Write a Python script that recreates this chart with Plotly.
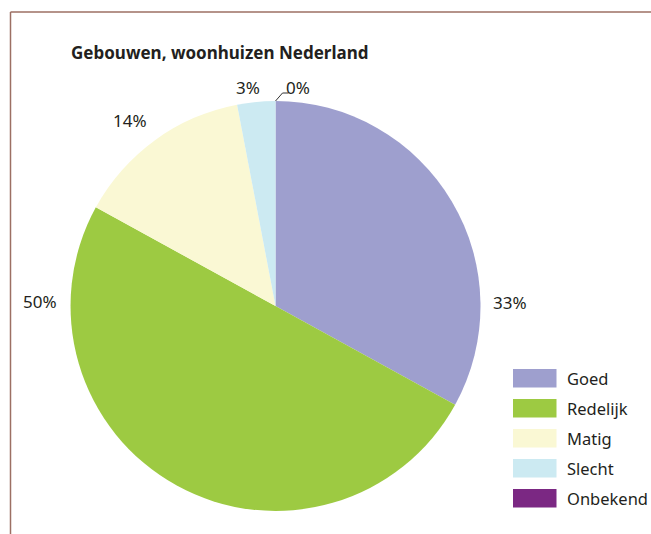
import plotly.graph_objects as go
import math

# ---- data ----
categories = ["Goed", "Redelijk", "Matig", "Slecht", "Onbekend"]
values = [33, 50, 14, 3, 0]
colors = ["#9E9FCE", "#9DCA42", "#FAF8D4", "#CCEAF2", "#7B2883"]
title_text = "Gebouwen, woonhuizen Nederland"

# ---- layout constants (window pixels) ----
W, H = 651, 534
cx, cy, R = 275.5, 306.0, 205.0
FONT = "Noto Sans, Open Sans, sans-serif"
TXT = "#231F20"
BORDER = "#9C6F63"

def px(x):
    return x / W

def py(y):
    return 1 - y / H

fig = go.Figure()
fig.add_trace(go.Pie(
    labels=categories,
    values=values,
    marker=dict(colors=colors, line=dict(width=0)),
    sort=False,
    direction="clockwise",
    rotation=0,
    textinfo="none",
    hoverinfo="label+percent",
    showlegend=False,
    domain=dict(x=[px(cx - R), px(cx + R)], y=[py(cy + R), py(cy - R)]),
))

annotations = []
shapes = []

# title
annotations.append(dict(
    text="<b>" + title_text + "</b>", x=px(69), y=py(52), xref="paper", yref="paper",
    xanchor="left", yanchor="middle", showarrow=False,
    font=dict(family=FONT, size=17, color=TXT),
))

# percentage labels (placement per slice)
label_pos = [(510, 302), (40, 301), (130, 120), (248, 88), (298, 87)]
total = sum(values)
for v, (lx, ly) in zip(values, label_pos):
    annotations.append(dict(
        text=f"{round(100 * v / total)}%", x=px(lx), y=py(ly), xref="paper", yref="paper",
        xanchor="center", yanchor="middle", showarrow=False,
        font=dict(family=FONT, size=17, color=TXT),
    ))

# leader line for the zero slice, starting at the slice's position on the rim
cum = sum(values[:4]) / total * 2 * math.pi
sx, sy = cx + R * math.sin(cum), cy - R * math.cos(cum)
shapes.append(dict(
    type="path", xref="paper", yref="paper",
    path=f"M {px(sx)} {py(sy)} L {px(sx + 7)} {py(sy - 8)} L {px(sx + 13)} {py(sy - 8)}",
    line=dict(color="#333333", width=1),
))

# legend
for i, (cat, col) in enumerate(zip(categories, colors)):
    y0 = 369 + 30 * i
    shapes.append(dict(
        type="rect", xref="paper", yref="paper",
        x0=px(513), x1=px(556.5), y0=py(y0 + 18.5), y1=py(y0),
        fillcolor=col, line=dict(width=0),
    ))
    annotations.append(dict(
        text=cat, x=px(565), y=py(y0 + 9.5), xref="paper", yref="paper",
        xanchor="left", yanchor="middle", showarrow=False,
        font=dict(family=FONT, size=16.5, color=TXT),
    ))

# border lines (top and left)
shapes.append(dict(type="line", xref="paper", yref="paper",
                   x0=px(10.5), x1=1, y0=py(12), y1=py(12),
                   line=dict(color=BORDER, width=1.5)))
shapes.append(dict(type="line", xref="paper", yref="paper",
                   x0=px(10.5), x1=px(10.5), y0=py(12), y1=0,
                   line=dict(color=BORDER, width=1.5)))

fig.update_layout(
    width=W, height=H,
    margin=dict(l=0, r=0, t=0, b=0),
    paper_bgcolor="white", plot_bgcolor="white",
    annotations=annotations, shapes=shapes,
)

fig.write_html(
    "out.html",
    config={"displayModeBar": False},
    default_width=f"{W}px", default_height=f"{H}px",
    post_script="document.body.style.margin='0';document.documentElement.style.overflow='hidden';",
)
